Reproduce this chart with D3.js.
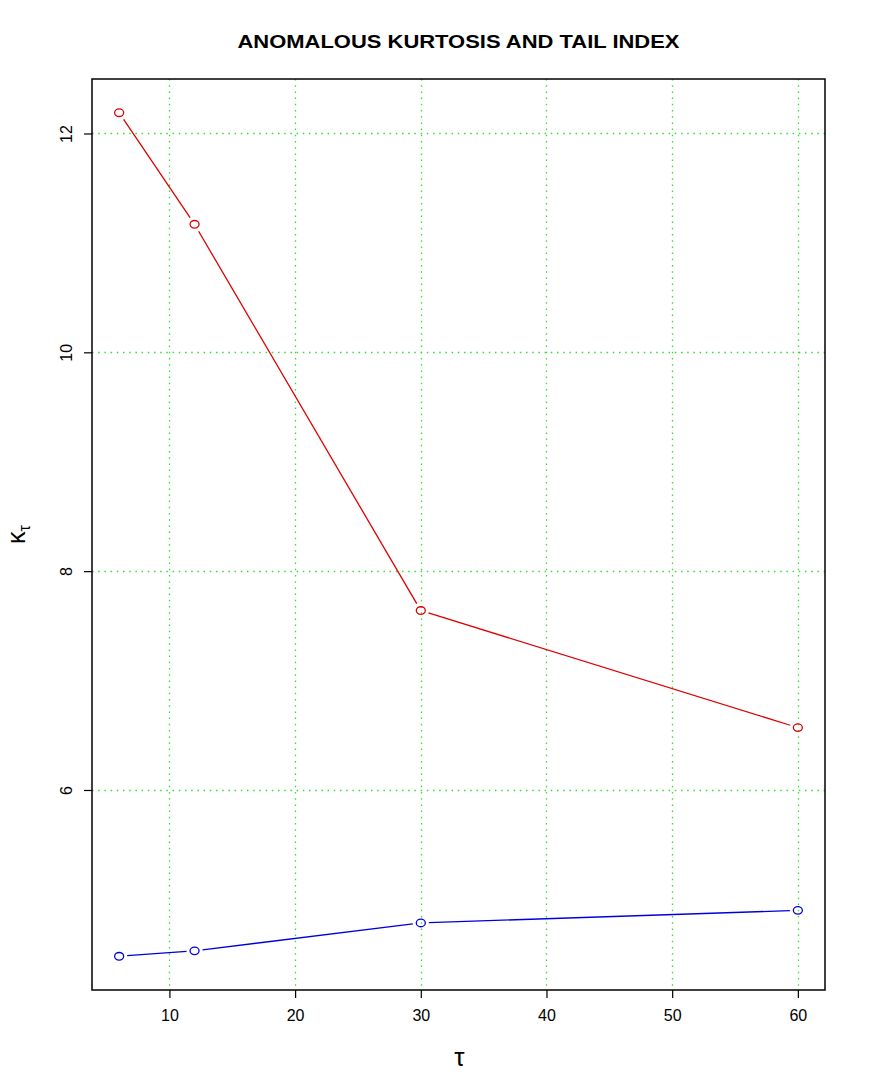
<!DOCTYPE html>
<html>
<head>
<meta charset="utf-8">
<script src="https://cdn.jsdelivr.net/npm/d3@7"></script>
<style>
  body { margin: 0; background: #fff; }
  text { font-family: "Liberation Sans", Arial, sans-serif; }
</style>
</head>
<body>
<svg width="872" height="1090"></svg>
<script>
var tau = [6, 12, 30, 60];
var kurtRed = [12.19, 11.17, 7.64, 6.57];
var kurtBlue = [4.48, 4.53, 4.785, 4.90];
var xTicks = [10, 20, 30, 40, 50, 60];
var yTicks = [6, 8, 10, 12];

var svg = d3.select("svg");
var pLeft = 92, pRight = 825, pTop = 79, pBottom = 990;

var x = d3.scaleLinear().domain([3.84, 62.16]).range([pLeft, pRight]);
var y = d3.scaleLinear().domain([4.172, 12.498]).range([pBottom, pTop]);

function px(v) { return Math.round(v) + 0.5; }

// grid, dotted green
svg.append("g").selectAll("line").data(xTicks).enter().append("line")
    .attr("x1", function(d) { return px(x(d)); }).attr("x2", function(d) { return px(x(d)); })
    .attr("y1", pTop).attr("y2", pBottom)
    .attr("stroke", "#33dd33").attr("stroke-width", 1.3)
    .attr("stroke-dasharray", "1.5,4.7");
svg.append("g").selectAll("line").data(yTicks).enter().append("line")
    .attr("y1", function(d) { return px(y(d)); }).attr("y2", function(d) { return px(y(d)); })
    .attr("x1", pLeft).attr("x2", pRight)
    .attr("stroke", "#33dd33").attr("stroke-width", 1.3)
    .attr("stroke-dasharray", "1.5,4.7");

// axes
var xAxis = svg.append("g")
    .attr("transform", "translate(0," + pBottom + ")")
    .call(d3.axisBottom(x).tickValues(xTicks).tickSize(8).tickPadding(12).tickFormat(d3.format("d")));
xAxis.select(".domain").remove();
xAxis.selectAll("text").attr("font-size", 16).attr("fill", "#000");
xAxis.selectAll("line").attr("stroke", "#000").attr("stroke-width", 1.2);

var yAxis = svg.append("g")
    .attr("transform", "translate(" + pLeft + ",0)")
    .call(d3.axisLeft(y).tickValues(yTicks).tickSize(8).tickFormat(d3.format("d")));
yAxis.select(".domain").remove();
yAxis.selectAll("line").attr("stroke", "#000").attr("stroke-width", 1.2);
yAxis.selectAll("text")
    .attr("font-size", 16).attr("fill", "#000")
    .attr("text-anchor", "middle")
    .attr("x", 0).attr("dy", null)
    .attr("transform", "translate(-26,0) rotate(-90)")
    .attr("dominant-baseline", "central");

svg.append("rect")
    .attr("x", pLeft).attr("y", pTop)
    .attr("width", pRight - pLeft).attr("height", pBottom - pTop)
    .attr("fill", "none").attr("stroke", "#000").attr("stroke-width", 1.5);

// series drawn R type="b": segments with gaps round the points
function drawSeries(vals, color) {
  var pts = tau.map(function(t, i) { return [x(t), y(vals[i])]; });
  var g = svg.append("g");
  var gap = 8;
  for (var i = 0; i < pts.length - 1; i++) {
    var a = pts[i], b = pts[i + 1];
    var dx = b[0] - a[0], dy = b[1] - a[1];
    var len = Math.sqrt(dx * dx + dy * dy);
    var ux = dx / len, uy = dy / len;
    g.append("line")
      .attr("x1", a[0] + ux * gap).attr("y1", a[1] + uy * gap)
      .attr("x2", b[0] - ux * gap).attr("y2", b[1] - uy * gap)
      .attr("stroke", color).attr("stroke-width", 1.3);
  }
  g.selectAll("ellipse").data(pts).enter().append("ellipse")
    .attr("cx", function(d) { return d[0]; })
    .attr("cy", function(d) { return d[1]; })
    .attr("rx", 4.5).attr("ry", 3.8)
    .attr("fill", "none").attr("stroke", color).attr("stroke-width", 1.3);
}
drawSeries(kurtRed, "#dd0000");
drawSeries(kurtBlue, "#0000dd");

// title and labels
svg.append("text")
    .attr("x", (pLeft + pRight) / 2).attr("y", 48)
    .attr("text-anchor", "middle")
    .attr("font-size", 19).attr("font-weight", "bold")
    .attr("textLength", 442).attr("lengthAdjust", "spacingAndGlyphs")
    .text("ANOMALOUS KURTOSIS AND TAIL INDEX");

svg.append("text")
    .attr("x", (pLeft + pRight) / 2 + 1).attr("y", 1066)
    .attr("text-anchor", "middle")
    .attr("font-size", 26)
    .attr("font-family", "'Liberation Serif', serif")
    .text("τ");

var yl = svg.append("text")
    .attr("transform", "translate(25," + ((pTop + pBottom) / 2) + ") rotate(-90)")
    .attr("text-anchor", "middle")
    .attr("font-size", 25)
    .attr("font-family", "'Liberation Serif', serif");
yl.append("tspan").text("κ");
yl.append("tspan").attr("font-size", 16).attr("dy", 5).text("τ");
</script>
</body>
</html>
